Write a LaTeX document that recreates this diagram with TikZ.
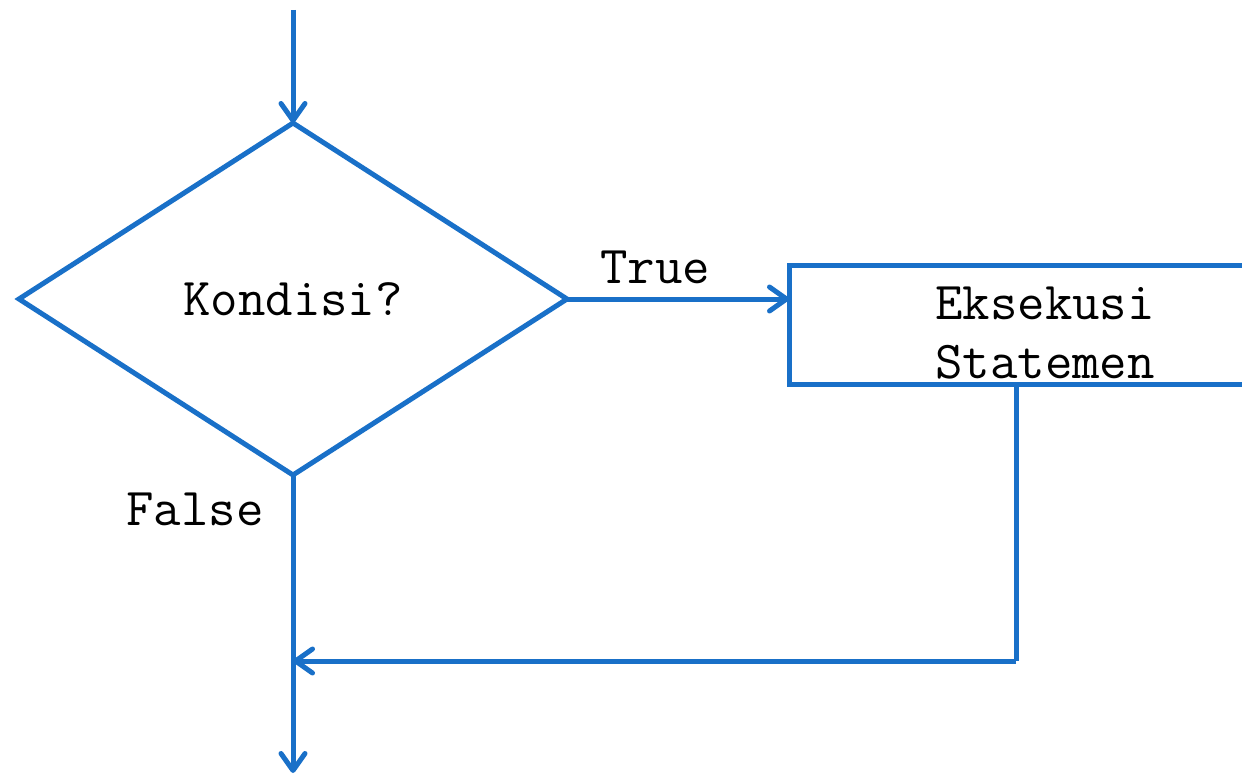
\documentclass[tikz,border=0pt]{standalone}
\usetikzlibrary{shapes.geometric,arrows.meta}
\definecolor{flowblue}{RGB}{25,112,200}
\begin{document}
\begin{tikzpicture}[x=1bp,y=-1bp,
  line/.style={draw=flowblue,line width=5bp},
  arr/.style={line,-{Straight Barb[length=17bp,width=24bp,round]}},
  lbl/.style={font=\fontsize{53.5}{59}\selectfont\ttfamily,inner sep=0pt,text=black},
]
\useasboundingbox (0,0) rectangle (1242,777);
\clip (0,0) rectangle (1242,777);
\node[diamond,line,lbl,minimum width=548bp,minimum height=352bp,outer sep=0pt] (cond) at (293,299) {Kondisi?};
\node[rectangle,line,minimum width=512bp,minimum height=119bp,outer sep=0pt,anchor=north west] (box) at (789,265) {};
\node[lbl,align=center] (boxtext) at (1045,333) {Eksekusi\\Statemen};
\node[lbl] (true) at (655,267) {True};
\node[lbl] (false) at (195,509) {False};
\coordinate (start) at (293,10);
\coordinate (end) at (293,773);
\coordinate (loop) at (1016,661);
\coordinate (join) at (293,661);
\draw[arr] (start) -- (cond.north);
\draw[arr] (cond.east) -- (cond.east -| box.west);
\draw[arr] (cond.south) -- (end);
\draw[line] (box.south -| loop) -- (loop);
\draw[arr] (loop) -- (join);
\end{tikzpicture}
\end{document}
